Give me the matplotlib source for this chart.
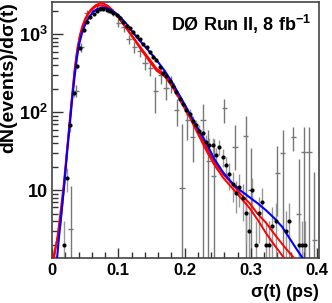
import numpy as np
import matplotlib
matplotlib.use("Agg")
import matplotlib.pyplot as plt
from matplotlib.ticker import MultipleLocator, FixedLocator, NullFormatter, FixedFormatter

plt.rcParams["font.family"] = ["Liberation Sans", "DejaVu Sans"]
plt.rcParams["font.weight"] = "bold"
plt.rcParams["mathtext.fontset"] = "custom"
plt.rcParams["mathtext.rm"] = "Liberation Sans:bold"
plt.rcParams["mathtext.it"] = "Liberation Sans:bold"
plt.rcParams["mathtext.bf"] = "Liberation Sans:bold"

# black data points (bin width 0.005)
data_x = [0.0175, 0.0225, 0.0275, 0.0325, 0.0375, 0.0425, 0.0475, 0.0525, 0.0575, 0.0625,
          0.0675, 0.0725, 0.0775, 0.0825, 0.0875, 0.0925, 0.0975, 0.1025, 0.1075, 0.1125,
          0.1175, 0.1225, 0.1275, 0.1325, 0.1375, 0.1425, 0.1475, 0.1525, 0.1575, 0.1625,
          0.1675, 0.1725, 0.1775, 0.1825, 0.1875, 0.1925, 0.1975, 0.2025, 0.2075, 0.2125,
          0.2175, 0.2225, 0.2275, 0.2325, 0.2375, 0.2425, 0.2475, 0.2525, 0.2575, 0.2625,
          0.2675, 0.2725, 0.2775, 0.2825, 0.2875, 0.2925, 0.2975, 0.3025, 0.3075, 0.3125,
          0.3175, 0.3225, 0.3275, 0.3325, 0.3375, 0.3525, 0.3575, 0.3725, 0.3775, 0.3825]
data_y = [2.0, 14.5, 68, 175, 390, 660, 1130, 1450, 1650, 1850,
          2000, 2100, 2120, 2080, 2000, 1880, 1750, 1600, 1450, 1300,
          1200, 1080, 950, 860, 760, 680, 600, 520, 470, 380,
          320, 290, 255, 220, 180, 150, 128, 108, 95, 78,
          68, 58, 54, 42, 38, 38, 28, 36, 27, 21,
          16, 12, 9.1, 11, 8, 5.1, 3.0, 10, 2.0, 5.1,
          7.1, 2.0, 2.0, 3.5, 4.0, 3.0, 4.0, 2.0, 2.0, 2.0]
data_err = [2.0, 5, 12, 18, 28, 36, 47, 53, 57, 60,
            63, 64, 64, 64, 63, 61, 59, 56, 53, 50,
            48, 46, 43, 41, 39, 37, 34, 32, 30, 27,
            25, 24, 22, 21, 19, 17, 16, 15, 14, 12,
            12, 11, 10, 9, 9, 9, 7, 8, 7, 6,
            6, 5, 4, 5, 4, 3, 2.4, 4.4, 2, 3,
            3.7, 2, 2, 2.6, 2.8, 2.4, 2.8, 2, 2, 2]

# grey histogram (bin width 0.008)
grey_x = [0.028, 0.036, 0.044, 0.052, 0.060, 0.068, 0.076, 0.084, 0.092, 0.100,
          0.108, 0.116, 0.124, 0.132, 0.140, 0.148, 0.156, 0.164, 0.172, 0.180,
          0.188, 0.196, 0.204, 0.212, 0.228, 0.236, 0.244, 0.260, 0.276, 0.292,
          0.300, 0.340, 0.348, 0.364, 0.372, 0.380, 0.388, 0.396]
grey_y = [3.2, 190, 680, 1860, 2050, 2150, 2250, 2100, 1900, 1420,
          1230, 870, 680, 620, 430, 365, 190, 300, 204, 236,
          107, 10.6, 79, 48, 79, 24, 15, 113, 36, 49,
          10, 16.6, 30, 48, 5, 31, 31, 2.3]
grey_lo = [3.1, 35, 85, 200, 200, 200, 200, 200, 190, 160,
           150, 120, 110, 100, 85, 75, 93, 70, 60, 60,
           40, 10.5, 35, 25, 78, 23.9, 14.9, 41, 18, 48.9,
           9.9, 12, 29.9, 16, 4.9, 30.9, 30.9, 2.2]
grey_hi = [8, 35, 85, 200, 200, 200, 200, 200, 190, 160,
           150, 120, 110, 100, 85, 75, 90, 70, 60, 60,
           40, 60, 35, 25, 50, 35, 30, 37, 32, 40,
           25, 20, 30, 17, 20, 34, 34, 15]

# fit curves
blue_x = [0.0075, 0.010, 0.0135, 0.018, 0.0226, 0.026, 0.030, 0.034, 0.0376, 0.041,
          0.045, 0.049, 0.0526, 0.057, 0.062, 0.068, 0.075, 0.082, 0.088, 0.095,
          0.102, 0.112, 0.122, 0.132, 0.147, 0.158, 0.170, 0.182, 0.195, 0.2075,
          0.220, 0.233, 0.245, 0.258, 0.272, 0.285, 0.298, 0.310, 0.323, 0.335,
          0.347, 0.360, 0.370, 0.378]
blue_y = [1.35, 2.3, 4.5, 11, 30, 60, 140, 290, 510, 760,
          1030, 1280, 1500, 1720, 1950, 2120, 2200, 2170, 2080, 1900,
          1700, 1370, 1060, 838, 600, 464, 340, 236, 150, 97,
          62, 40, 25, 17, 12.3, 9.8, 8.1, 6.8, 5.5, 4.4,
          3.4, 2.3, 1.7, 1.35]

redA_x = [0.0015, 0.006, 0.012, 0.017, 0.022, 0.026, 0.030, 0.034, 0.038, 0.042,
          0.046, 0.050, 0.055, 0.060, 0.066, 0.072, 0.078, 0.084, 0.090, 0.097,
          0.105, 0.115, 0.125, 0.132, 0.147, 0.158, 0.170, 0.182, 0.195, 0.2075,
          0.220, 0.233, 0.245, 0.258, 0.272, 0.285, 0.298, 0.310, 0.323, 0.336,
          0.350]
redA_y = [1.35, 2.0, 3.4, 9, 28, 70, 160, 360, 650, 980,
          1300, 1600, 1900, 2150, 2380, 2500, 2480, 2330, 2100, 1800,
          1450, 1100, 830, 680, 450, 340, 290, 209, 135, 87,
          53, 32, 21, 14.5, 10.6, 7.9, 5.9, 4.2, 2.8, 1.95,
          1.35]

redB_x = [0.003, 0.008, 0.013, 0.018, 0.022, 0.026, 0.030, 0.034, 0.038, 0.042,
          0.046, 0.050, 0.055, 0.060, 0.066, 0.072, 0.078, 0.084, 0.090, 0.097,
          0.105, 0.115, 0.125, 0.132, 0.147, 0.158, 0.170, 0.182, 0.195, 0.2075,
          0.220, 0.233, 0.245, 0.258, 0.272, 0.285, 0.298, 0.310, 0.323, 0.336,
          0.350, 0.365]
redB_y = [1.35, 2.5, 5.5, 13, 30, 65, 150, 330, 620, 950,
          1260, 1550, 1850, 2080, 2280, 2350, 2330, 2220, 2030, 1770,
          1460, 1130, 860, 710, 480, 360, 305, 220, 142, 92,
          57, 35, 23, 16, 12, 8.8, 6.8, 5.0, 3.8, 2.7,
          1.9, 1.35]

fig = plt.figure(figsize=(3.32, 3.03), dpi=100)
ax = fig.add_axes([0.157, 0.149, 0.804, 0.845])
ax.set_yscale("log")

gy = np.array(grey_y)
ax.errorbar(grey_x, gy, yerr=[grey_lo, grey_hi], xerr=0.004, fmt="none",
            ecolor="#777777", elinewidth=1.0, capsize=0, zorder=1)

dy = np.array(data_y)
de = np.array(data_err)
ax.errorbar(data_x, dy, yerr=[np.minimum(de, dy * 0.99), de], fmt="none",
            ecolor="#999999", elinewidth=1.0, capsize=0, zorder=2)

ax.plot(redA_x, redA_y, color="#ff0000", lw=1.4, zorder=3)
ax.plot(redB_x, redB_y, color="#ff0000", lw=1.4, zorder=3)
ax.plot(blue_x, blue_y, color="#0000ff", lw=1.5, zorder=4)
ax.plot(data_x, dy, "o", color="black", ms=3, mec="none", zorder=5)

ax.set_xlim(0, 0.403)
ax.set_ylim(1.35, 2620)

ax.xaxis.set_major_locator(FixedLocator([0, 0.1, 0.2, 0.3, 0.4]))
ax.xaxis.set_major_formatter(FixedFormatter(["0", "0.1", "0.2", "0.3", "0.4"]))
ax.xaxis.set_minor_locator(MultipleLocator(0.02))

ax.yaxis.set_major_locator(FixedLocator([10, 100, 1000]))
ax.yaxis.set_major_formatter(FixedFormatter(["10", "$10^{2}$", "$10^{3}$"]))
minors = [m * 10 ** e for e in range(0, 4) for m in range(2, 10)]
ax.yaxis.set_minor_locator(FixedLocator(minors))
ax.yaxis.set_minor_formatter(NullFormatter())

ax.tick_params(axis="both", which="both", direction="in", top=False, right=False,
               color="#333333", width=1.0)
ax.tick_params(axis="y", which="major", length=8, labelsize=13, pad=3)
ax.tick_params(axis="y", which="minor", length=4)
ax.tick_params(axis="x", which="major", length=7, labelsize=12, pad=4)
ax.tick_params(axis="x", which="minor", length=4)

for s in ax.spines.values():
    s.set_color("#444444")
    s.set_linewidth(1.2)

ax.set_ylabel("dN(events)/d\u03c3(t)", fontsize=14, fontweight="bold", loc="top", labelpad=1)
ax.set_xlabel("\u03c3(t) (ps)", fontsize=13, fontweight="bold", loc="right", labelpad=4)

ax.text(0.97, 0.955, "D\u00d8 Run II, 8 fb$^{-1}$", transform=ax.transAxes,
        ha="right", va="top", fontsize=13, fontweight="bold")

fig.savefig("out.png", dpi=100)
